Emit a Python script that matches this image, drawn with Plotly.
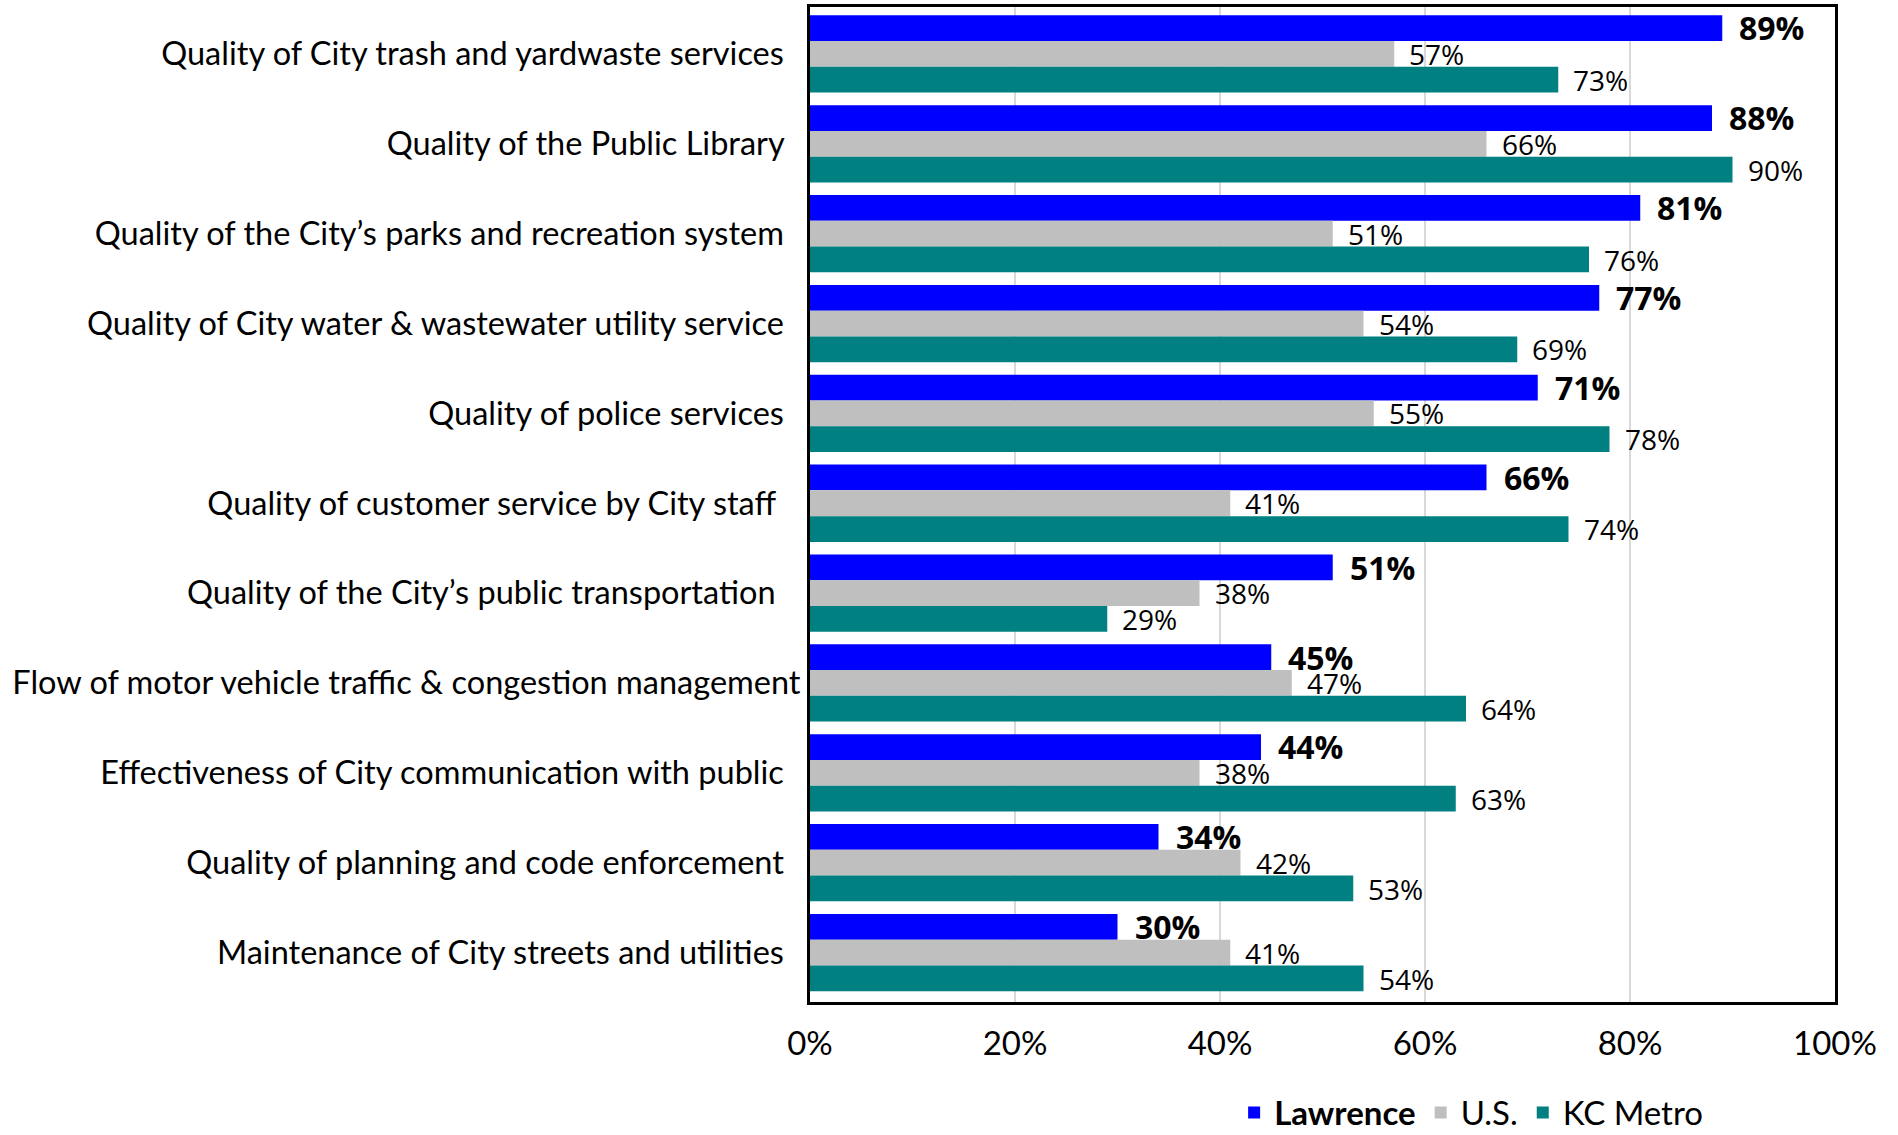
import plotly.graph_objects as go

categories = [
    "Quality of City trash and yardwaste services",
    "Quality of the Public Library",
    "Quality of the City\u2019s parks and recreation system",
    "Quality of City water & wastewater utility service",
    "Quality of police services",
    "Quality of customer service by City staff",
    "Quality of the City\u2019s public transportation",
    "Flow of motor vehicle traffic & congestion management",
    "Effectiveness of City communication with public",
    "Quality of planning and code enforcement",
    "Maintenance of City streets and utilities",
]
lawrence = [89, 88, 81, 77, 71, 66, 51, 45, 44, 34, 30]
us = [57, 66, 51, 54, 55, 41, 38, 47, 38, 42, 41]
kc_metro = [73, 90, 76, 69, 78, 74, 29, 64, 63, 53, 54]
series_names = ["Lawrence", "U.S.", "KC Metro"]
x_ticks = [0, 20, 40, 60, 80, 100]
x_tick_labels = ["0%", "20%", "40%", "60%", "80%", "100%"]

colors = ["#0000FF", "#BFBFBF", "#008080"]
series = [lawrence, us, kc_metro]

# trailing padding per label (non-breaking spaces) to mimic source alignment
pad = {c: "\u00a0\u00a0" for c in categories}
pad["Flow of motor vehicle traffic & congestion management"] = ""
pad["Quality of customer service by City staff"] = "\u00a0\u00a0\u00a0"
pad["Quality of the City\u2019s public transportation"] = "\u00a0\u00a0\u00a0"
ticktext = [c + pad[c] for c in categories]

fig = go.Figure()
for name, vals, col in zip(series_names, series, colors):
    fig.add_trace(go.Bar(
        y=categories, x=vals, name=name, orientation="h",
        marker=dict(color=col, line=dict(width=0)),
        hoverinfo="skip",
    ))

bargap = 0.14
bw = (1 - bargap) / 3
plot_h = 1002 - 7
band_px = plot_h / len(categories)
for i, vals in enumerate(series):
    off = (i - 1) * bw * band_px
    bold = i == 0
    for c, v in zip(categories, vals):
        fig.add_annotation(
            x=v, y=c, xref="x", yref="y", text=("<b>%d%%</b>" % v) if bold else "%d%%" % v,
            showarrow=False, xanchor="left", yanchor="middle",
            xshift=15 if bold else 13, yshift=-off,
            font=dict(family="Open Sans", size=32 if bold else 28, color="black"),
        )

fig.update_layout(
    width=1898, height=1135,
    margin=dict(l=810, r=63, t=7, b=133, autoexpand=False),
    paper_bgcolor="white", plot_bgcolor="white",
    barmode="group", bargap=bargap, bargroupgap=0,
    showlegend=True,
    legend=dict(
        orientation="h", x=0.645, y=-0.111, xanchor="center", yanchor="middle",
        font=dict(family="Lato", size=33, color="black"),
        traceorder="normal",
    ),
    font=dict(family="Lato", color="black"),
)
fig.update_xaxes(
    range=[0, 100], tickvals=x_ticks, ticktext=x_tick_labels,
    showgrid=True, gridcolor="#D9D9D9", gridwidth=2,
    showline=True, linecolor="black", linewidth=3, mirror=True,
    ticks="", tickfont=dict(family="Lato", size=33, color="black"),
    ticklabelstandoff=10, zeroline=False, automargin=False,
)
fig.update_yaxes(
    categoryorder="array", categoryarray=categories, autorange="reversed",
    tickvals=categories, ticktext=ticktext,
    showline=True, linecolor="black", linewidth=3, mirror=True,
    ticks="", tickfont=dict(family="Lato", size=32.5, color="black"),
    ticklabelstandoff=0, showgrid=False, automargin=False,
)

fig.data[0].name = "<b>Lawrence</b>"

fig.write_html(
    "out.html",
    config={"displayModeBar": False},
    post_script="document.body.style.margin='0';document.body.style.overflow='hidden';",
)
